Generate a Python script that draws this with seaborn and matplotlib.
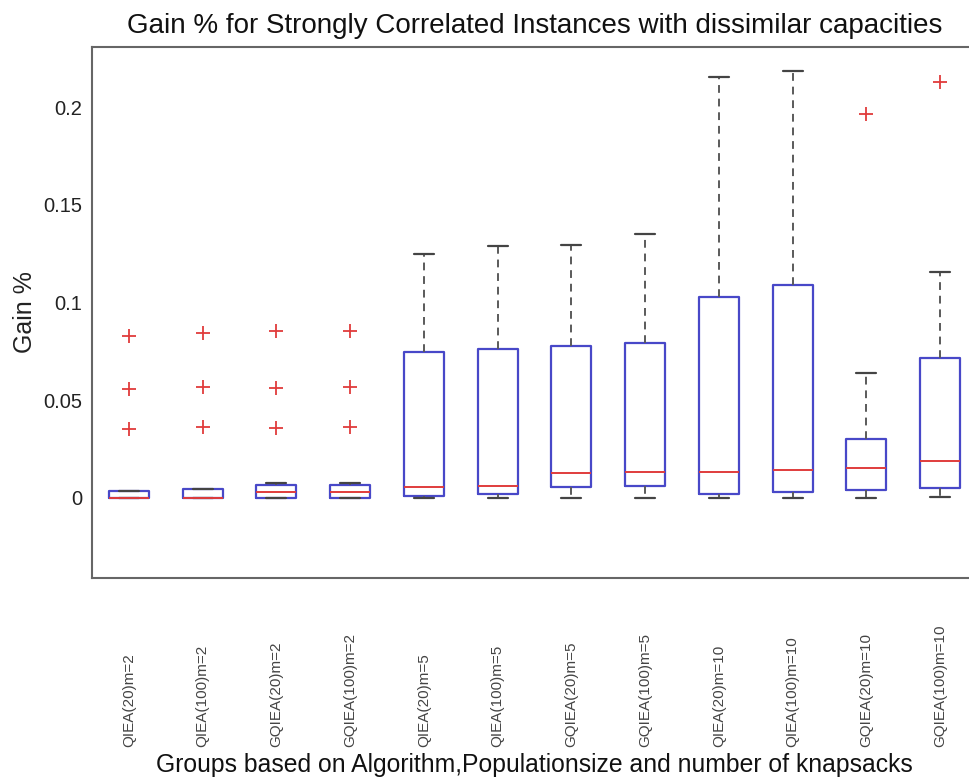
import numpy as np
import pandas as pd
import matplotlib
matplotlib.use("Agg")
import matplotlib.pyplot as plt
import seaborn as sns

groups = ["QIEA(20)m=2", "QIEA(100)m=2", "GQIEA(20)m=2", "GQIEA(100)m=2",
          "QIEA(20)m=5", "QIEA(100)m=5", "GQIEA(20)m=5", "GQIEA(100)m=5",
          "QIEA(20)m=10", "QIEA(100)m=10", "GQIEA(20)m=10", "GQIEA(100)m=10"]
whisk_lo = [0, 0, 0, 0, 0, 0, 0, 0, 0, 0, 0, 0.0005]
q1 = [0, 0, 0, 0, 0.0008, 0.0019, 0.0057, 0.0063, 0.0019, 0.0030, 0.0040, 0.0049]
median = [0, 0, 0.0032, 0.0032, 0.0057, 0.0063, 0.0128, 0.0133, 0.0131, 0.0142, 0.0151, 0.0190]
q3 = [0.0037, 0.0045, 0.0068, 0.0068, 0.0744, 0.0762, 0.0777, 0.0791, 0.1029, 0.1087, 0.0300, 0.0718]
whisk_hi = [0.0037, 0.0045, 0.0075, 0.0075, 0.1246, 0.1290, 0.1295, 0.1350, 0.2156, 0.2182, 0.0639, 0.1157]
outliers = [[0.0352, 0.0559, 0.0829], [0.0363, 0.0568, 0.0845], [0.0357, 0.0563, 0.0853],
            [0.0363, 0.0568, 0.0853], [], [], [], [], [], [], [0.1962], [0.2126]]
yticks = [0, 0.05, 0.1, 0.15, 0.2]
ytick_labels = ["0", "0.05", "0.1", "0.15", "0.2"]

# Build a 17-point sample per group whose quartiles / whiskers / fliers equal the read statistics
rows = []
for g, lo, a, m, b, hi, outs in zip(groups, whisk_lo, q1, median, q3, whisk_hi, outliers):
    tail = list(outs) + [hi] * (3 - len(outs))
    sample = [lo] + [a] * 4 + [m] * 4 + [b] * 4 + [hi] + tail
    for v in sample:
        rows.append({"group": g, "value": v})
df = pd.DataFrame(rows)

sns.set_theme(style="white")
plt.rcParams["font.family"] = ["Liberation Sans", "DejaVu Sans"]

fig = plt.figure(figsize=(9.69, 7.77), dpi=100)
ax = fig.add_axes([0.0949, 0.2561, 0.9134, 0.6834])

blue = "#4848c8"
red = "#e03c3c"
sns.boxplot(data=df, x="group", y="value", order=groups, ax=ax, width=0.54,
            fill=False, color=blue, saturation=1, linewidth=1.6, whis=1.5,
            medianprops={"color": red, "linewidth": 1.4},
            whiskerprops={"color": "#5a5a5a", "linestyle": (0, (4, 3)), "linewidth": 1.4},
            capprops={"color": "#444444", "linewidth": 1.6},
            flierprops={"marker": "+", "markeredgecolor": red, "markerfacecolor": red,
                        "markersize": 10, "markeredgewidth": 1.3})

ax.set_xlim(-0.5, 11.5)
ax.set_ylim(-0.041, 0.2307)
ax.set_yticks(yticks)
ax.set_yticklabels(ytick_labels, fontsize=14.5, color="#222222")
ax.tick_params(axis="y", direction="in", length=5, width=1, color="#555555", pad=7)
ax.tick_params(axis="x", length=0, pad=121.5)
for lab in ax.get_xticklabels():
    lab.set_rotation(90)
    lab.set_va("bottom")
    lab.set_ha("center")
    lab.set_fontsize(11)
    lab.set_color("#444444")
for sp in ax.spines.values():
    sp.set_color("#666666")
    sp.set_linewidth(1.5)

ax.set_ylabel("Gain %", fontsize=18, color="#222222")
ax.yaxis.set_label_coords(-0.062, 0.5)
ax.set_xlabel("Groups based on Algorithm,Populationsize and number of knapsacks",
              fontsize=17.8, color="#111111")
ax.xaxis.label.set_va("baseline")
ax.xaxis.set_label_coords(0.5, -0.365)
ax.set_title("Gain % for Strongly Correlated Instances with dissimilar capacities",
             fontsize=20, color="#111111", pad=10)

fig.savefig("out.png", dpi=100)
